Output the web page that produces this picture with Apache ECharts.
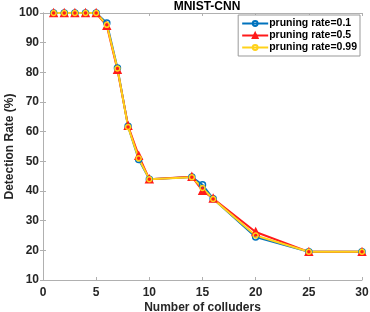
<!DOCTYPE html>
<html>
<head>
<meta charset="utf-8">
<script src="https://cdn.jsdelivr.net/npm/echarts@6/dist/echarts.min.js"></script>
<style>
  html, body { margin: 0; padding: 0; background: #fff; }
  #chart { width: 370px; height: 312px; }
</style>
</head>
<body>
<div id="chart"></div>
<script>
const colluders = [1, 2, 3, 4, 5, 6, 7, 8, 9, 10, 14, 15, 16, 20, 25, 30]
const rate01 = [100, 100, 100, 100, 100, 96.6, 81.5, 61.8, 50.6, 44.0, 44.7, 42.1, 37.4, 24.5, 19.5, 19.5]
const rate05 = [100, 100, 100, 100, 100, 95.7, 80.9, 62.0, 51.9, 44.0, 44.8, 40.1, 37.5, 26.2, 19.5, 19.5]
const rate099 = [100, 100, 100, 100, 100, 96.0, 81.3, 61.6, 51.0, 44.0, 44.6, 41.0, 37.3, 25.0, 19.5, 19.5]

const font = 'Liberation Sans'
const axisGray = '#b0b0b0'
const textDark = '#262626'

function pairs (ys) {
  return colluders.map((x, i) => [x, ys[i]])
}

function lineSeries (name, ys, color, symbol, size, filled) {
  return {
    name: name,
    type: 'line',
    data: pairs(ys),
    symbol: symbol,
    symbolSize: size,
    showAllSymbol: true,
    lineStyle: { color: color, width: 2 },
    itemStyle: {
      color: filled ? color : 'transparent',
      borderColor: color,
      borderWidth: 1.5
    },
    emphasis: { disabled: true },
    animation: false
  }
}

const chart = echarts.init(document.getElementById('chart'))

chart.setOption({
  animation: false,
  title: {
    text: 'MNIST-CNN',
    left: 202,
    textAlign: 'center',
    top: -4,
    textStyle: { fontFamily: font, fontSize: 12, fontWeight: 'bold', color: '#000' }
  },
  grid: { left: 43, right: 8, top: 13, bottom: 32, outerBoundsMode: 'none' },
  legend: {
    right: 10,
    top: 15,
    orient: 'vertical',
    itemGap: 1,
    itemWidth: 26,
    itemHeight: 6,
    padding: [3, 3, 3, 3],
    backgroundColor: '#fff',
    borderColor: '#999',
    borderWidth: 1,
    borderRadius: 0,
    textStyle: { fontFamily: font, fontSize: 10.5, fontWeight: 'bold', color: '#000', padding: [0, 0, 0, -4] },
    data: ['pruning rate=0.1', 'pruning rate=0.5', 'pruning rate=0.99']
  },
  xAxis: [{
    type: 'value',
    min: 0,
    max: 30,
    interval: 5,
    name: 'Number of colluders',
    nameLocation: 'middle',
    nameGap: 22,
    nameMoveOverlap: false,
    nameTextStyle: { fontFamily: font, fontSize: 12, fontWeight: 'bold', color: textDark },
    axisLine: { show: true, lineStyle: { color: axisGray, width: 1 } },
    axisTick: { show: true, inside: true, length: 3, lineStyle: { color: axisGray } },
    axisLabel: { fontFamily: font, fontSize: 12, fontWeight: 'bold', color: textDark, margin: 7 },
    splitLine: { show: false }
  }, {
    type: 'value',
    position: 'top',
    min: 0,
    max: 30,
    interval: 5,
    axisLine: { show: true, lineStyle: { color: axisGray, width: 1 } },
    axisTick: { show: true, inside: true, length: 3, lineStyle: { color: axisGray } },
    axisLabel: { show: false },
    splitLine: { show: false }
  }],
  yAxis: [{
    type: 'value',
    min: 10,
    max: 100,
    interval: 10,
    name: 'Detection Rate (%)',
    nameLocation: 'middle',
    nameGap: 27,
    nameMoveOverlap: false,
    nameTextStyle: { fontFamily: font, fontSize: 12, fontWeight: 'bold', color: textDark },
    axisLine: { show: true, lineStyle: { color: axisGray, width: 1 } },
    axisTick: { show: true, inside: true, length: 3, lineStyle: { color: axisGray } },
    axisLabel: { fontFamily: font, fontSize: 12, fontWeight: 'bold', color: textDark, margin: 4 },
    splitLine: { show: false }
  }, {
    type: 'value',
    position: 'right',
    min: 10,
    max: 100,
    interval: 10,
    axisLine: { show: true, lineStyle: { color: axisGray, width: 1 } },
    axisTick: { show: true, inside: true, length: 3, lineStyle: { color: axisGray } },
    axisLabel: { show: false },
    splitLine: { show: false }
  }],
  series: [
    lineSeries('pruning rate=0.1', rate01, '#0072BD', 'circle', 6, false),
    lineSeries('pruning rate=0.5', rate05, '#FF1A1A', 'triangle', 7, true),
    lineSeries('pruning rate=0.99', rate099, '#FFD21A', 'circle', 5, false)
  ]
})
</script>
</body>
</html>
